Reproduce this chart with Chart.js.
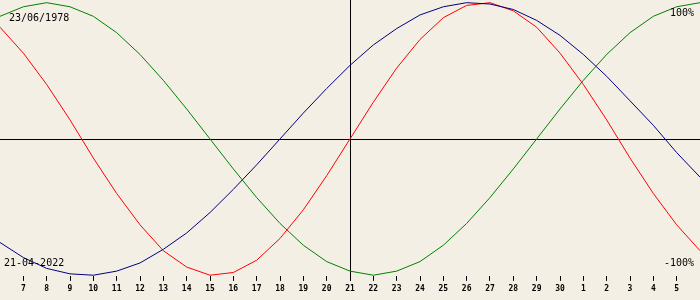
<!DOCTYPE html>
<html>
<head>
<meta charset="utf-8">
<script src="https://cdn.jsdelivr.net/npm/chart.js@4"></script>
<style>
  body { margin: 0; background: #F3EFE4; }
  #wrap { width: 700px; height: 300px; position: relative; }
</style>
</head>
<body>
<div id="wrap"><canvas id="bioChart"></canvas></div>
<script>
// days shown: 6 April .. 6 May (values > 30 are May)
var days = [6, 7, 8, 9, 10, 11, 12, 13, 14, 15, 16, 17, 18, 19, 20, 21,
  22, 23, 24, 25, 26, 27, 28, 29, 30, 31, 32, 33, 34, 35, 36];
var physical = [0.82, 0.63, 0.40, 0.14, -0.14, -0.40, -0.63, -0.82, -0.94, -1.00, -0.98,
  -0.89, -0.73, -0.52, -0.27, 0, 0.27, 0.52, 0.73, 0.89, 0.98, 1.00, 0.94, 0.82,
  0.63, 0.40, 0.14, -0.14, -0.40, -0.63, -0.82];
var emotional = [0.90, 0.97, 1.00, 0.97, 0.90, 0.78, 0.62, 0.43, 0.22, 0, -0.22,
  -0.43, -0.62, -0.78, -0.90, -0.97, -1.00, -0.97, -0.90, -0.78, -0.62, -0.43,
  -0.22, 0, 0.22, 0.43, 0.62, 0.78, 0.90, 0.97, 1.00];
var intellectual = [-0.76, -0.87, -0.95, -0.99, -1.00, -0.97, -0.91, -0.81, -0.69, -0.54,
  -0.37, -0.19, 0, 0.19, 0.37, 0.54, 0.69, 0.81, 0.91, 0.97, 1.00, 0.99, 0.95,
  0.87, 0.76, 0.62, 0.46, 0.28, 0.10, -0.10, -0.28];
var tickDays = [7, 8, 9, 10, 11, 12, 13, 14, 15, 16, 17, 18, 19, 20, 21, 22, 23,
  24, 25, 26, 27, 28, 29, 30, 31, 32, 33, 34, 35];
var today = 21;
var birthText = "23/06/1978";
var dateText = "21-04-2022";

function points(values) {
  return days.map(function (d, i) { return { x: d, y: values[i] }; });
}

// black cross at today / zero, plus the corner texts
var crossPlugin = {
  id: 'cross',
  beforeDatasetsDraw: function (chart) {
    var ctx = chart.ctx;
    var xs = chart.scales.x, ys = chart.scales.y;
    var x = Math.round(xs.getPixelForValue(today)) + 0.5;
    var y = Math.round(ys.getPixelForValue(0)) + 0.5;
    ctx.save();
    ctx.strokeStyle = '#000';
    ctx.lineWidth = 1;
    ctx.beginPath();
    ctx.moveTo(0, y); ctx.lineTo(chart.width, y);
    ctx.moveTo(x, 0); ctx.lineTo(x, chart.chartArea.bottom + 5);
    ctx.stroke();
    ctx.restore();
  },
  afterDatasetsDraw: function (chart) {
    var ctx = chart.ctx;
    ctx.save();
    ctx.fillStyle = '#000';
    ctx.font = '10px "DejaVu Sans Mono"';
    ctx.textBaseline = 'alphabetic';
    ctx.textAlign = 'left';
    ctx.fillText(birthText, 9, 21);
    ctx.fillText(dateText, 4, 266);
    ctx.textAlign = 'right';
    ctx.fillText('100%', 694, 16);
    ctx.fillText('-100%', 694, 266);
    ctx.restore();
  }
};

var ctxB = document.getElementById('bioChart').getContext('2d');
var bioChart = new Chart(ctxB, {
  type: 'line',
  data: {
    datasets: [
      { label: 'Emotional', data: points(emotional), borderColor: '#008000' },
      { label: 'Intellectual', data: points(intellectual), borderColor: '#000080' },
      { label: 'Physical', data: points(physical), borderColor: '#FF0000' }
    ]
  },
  options: {
    responsive: true,
    maintainAspectRatio: false,
    animation: false,
    layout: { padding: { top: 2, bottom: 3.5, left: 0, right: 0 } },
    elements: {
      line: { borderWidth: 1, tension: 0, fill: false },
      point: { radius: 0 }
    },
    plugins: { legend: { display: false }, tooltip: { enabled: false } },
    scales: {
      x: {
        type: 'linear',
        min: 6,
        max: 36,
        offset: false,
        afterBuildTicks: function (axis) {
          axis.ticks = tickDays.map(function (d) { return { value: d }; });
        },
        ticks: {
          autoSkip: false,
          maxRotation: 0,
          padding: 3,
          color: '#000',
          font: { family: '"DejaVu Sans Mono"', size: 8, weight: 'bold' },
          callback: function (v) { return v > 30 ? v - 30 : v; }
        },
        grid: { drawOnChartArea: false, drawTicks: true, tickLength: 5, color: '#000' },
        border: { display: false }
      },
      y: {
        display: false,
        min: -1.005,
        max: 1.005
      }
    }
  },
  plugins: [crossPlugin]
});
</script>
</body>
</html>
